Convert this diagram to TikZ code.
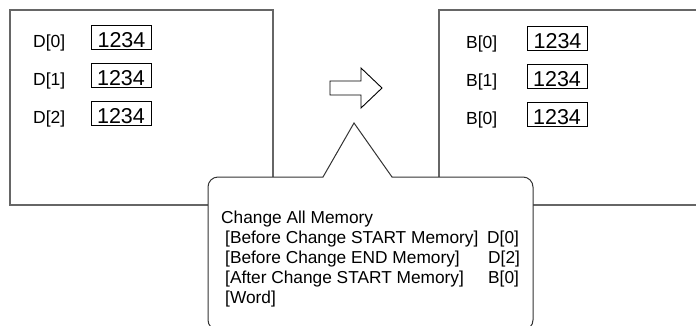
\documentclass[tikz,border=0pt]{standalone}
\usepackage{fontspec}
\setmainfont{Liberation Sans}
\begin{document}
\begin{tikzpicture}[x=1pt, y=-1pt,
    panel/.style={line width=1.3pt, draw=black!60},
    cell/.style={draw, line width=0.9pt, minimum width=60pt, inner xsep=5pt, inner ysep=2pt,
      text height=20pt, text depth=0pt, anchor=base, font=\fontsize{21.5}{24}\selectfont},
    reg/.style={anchor=base west, inner sep=0pt, font=\fontsize{17.5}{20}\selectfont},
    note/.style={anchor=base west, inner sep=0pt, font=\fontsize{17.3}{20}\selectfont}]
  \useasboundingbox (0,0) rectangle (696,325);
  \clip (0,0) rectangle (696,325);
  % memory before and after
  \draw[panel] (10,205) -- (10,10) -- (273,10) -- (273,205) -- cycle;
  \draw[panel] (710,205) -- (439,205) -- (439,10) -- (710,10);
  \node[reg] (dl0) at (33,47) {D[0]};
  \node[reg] (dl1) at (33,85) {D[1]};
  \node[reg] (dl2) at (33,123) {D[2]};
  \node[cell] (d0) at (121.5,47) {1234};
  \node[cell] (d1) at (121,85) {1234};
  \node[cell] (d2) at (121,123) {1234};
  \node[reg] (bl0) at (466,48) {B[0]};
  \node[reg] (bl1) at (466,86) {B[1]};
  \node[reg] (bl2) at (466,124) {B[0]};
  \node[cell] (b0) at (557.5,48) {1234};
  \node[cell] (b1) at (557,86) {1234};
  \node[cell] (b2) at (557,124) {1234};
  % hollow arrow
  \draw[line width=0.9pt] (330,81) -- (361,81) -- (361,68) -- (382,88) -- (361,108) -- (361,95) -- (330,95) -- cycle;
  % callout
  \filldraw[fill=white, draw=black!80, line width=1pt]
    (208,320) -- (208,187) arc[start angle=180, end angle=270, radius=10]
    -- (323,177) -- (354,123) -- (392,177) -- (523,177)
    arc[start angle=270, end angle=360, radius=10] -- (533,320)
    arc[start angle=0, end angle=90, radius=10] -- (218,330)
    arc[start angle=90, end angle=180, radius=10] -- cycle;
  \node[note] (title) at (221,223) {Change All Memory};
  \node[note] (bs) at (225,243) {[Before Change START Memory]};
  \node[note] (be) at (225,263) {[Before Change END Memory]};
  \node[note] (as) at (225,283) {[After Change START Memory]};
  \node[note] (wd) at (225,303) {[Word]};
  \node[note] (bsv) at (487,243) {D[0]};
  \node[note] (bev) at (488,263) {D[2]};
  \node[note] (asv) at (488,283) {B[0]};
\end{tikzpicture}
\end{document}
